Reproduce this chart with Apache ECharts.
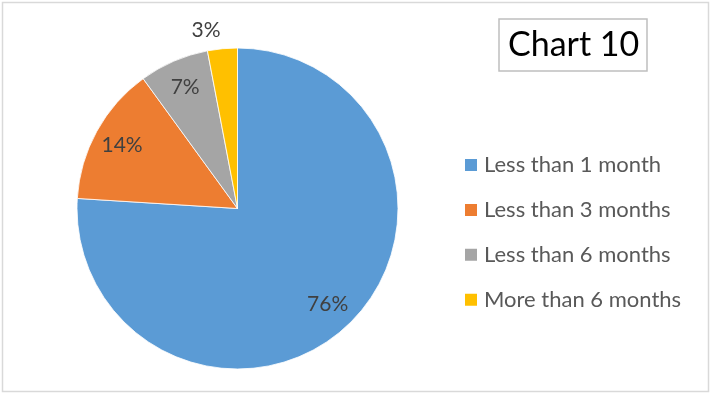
<!DOCTYPE html>
<html>
<head>
<meta charset="utf-8">
<script src="https://cdn.jsdelivr.net/npm/echarts@6/dist/echarts.min.js"></script>
<style>
  html, body { margin: 0; padding: 0; background: #fff; }
  #chart { width: 711px; height: 394px; }
</style>
</head>
<body>
<div id="chart"></div>
<script>
// Duration categories and their share (%)
const categories = ['Less than 1 month', 'Less than 3 months', 'Less than 6 months', 'More than 6 months'];
const shares = [76, 14, 7, 3];
const colors = ['#5B9BD5', '#ED7D31', '#A5A5A5', '#FFC000'];
const titleText = 'Chart 10';

const FONT = 'Lato, "Liberation Sans", sans-serif';
const center = [237.5, 208.5];
const radius = 160.5;

const chart = echarts.init(document.getElementById('chart'), null, { renderer: 'canvas' });

// The smallest slice gets its label outside the pie, the rest inside
const outsideIdx = 3;

const pieData = categories.map((name, i) => ({
  name,
  value: shares[i],
  itemStyle: { color: colors[i] },
  label: i === outsideIdx ? { show: true } : { show: false }
}));

// Transparent ring that carries the inside labels at ~80% of the radius
const labelRingData = categories.map((name, i) => ({
  name,
  value: shares[i],
  itemStyle: { color: 'rgba(0,0,0,0)' },
  label: { show: i !== outsideIdx }
}));

chart.setOption({
  animation: false,
  backgroundColor: '#fff',
  title: {
    text: titleText,
    left: 499,
    top: 19,
    padding: [8, 8, 8, 9],
    borderColor: '#bfbfbf',
    borderWidth: 1.5,
    textStyle: { fontFamily: FONT, fontSize: 34, fontWeight: 'normal', color: '#000', lineHeight: 36 }
  },
  legend: {
    orient: 'vertical',
    left: 463,
    top: 154,
    padding: 0,
    itemWidth: 14,
    itemHeight: 14,
    itemGap: 22.9,
    icon: 'rect',
    selectedMode: false,
    data: categories,
    textStyle: { fontFamily: FONT, fontSize: 22, color: '#595959', lineHeight: 20, padding: [0, 0, 0, 1] }
  },
  graphic: [{
    type: 'rect',
    silent: true,
    z: -10,
    shape: { x: 2.5, y: 2.5, width: 706, height: 389 },
    style: { fill: 'none', stroke: '#d9d9d9', lineWidth: 1.5 }
  }],
  series: [
    {
      type: 'pie',
      center,
      radius: [0, radius],
      startAngle: 90,
      clockwise: true,
      avoidLabelOverlap: false,
      silent: true,
      itemStyle: { borderColor: '#fff', borderWidth: 0.8 },
      label: {
        position: 'outside',
        formatter: '{c}%',
        fontFamily: FONT,
        fontSize: 21,
        color: '#404040',
        distanceToLabelLine: 0
      },
      labelLine: { show: false, length: 19, length2: 0 },
      data: pieData
    },
    {
      type: 'pie',
      center,
      radius: [97, radius],
      startAngle: 90,
      clockwise: true,
      avoidLabelOverlap: false,
      silent: true,
      legendHoverLink: false,
      label: {
        position: 'inside',
        formatter: '{c}%',
        fontFamily: FONT,
        fontSize: 21,
        color: '#404040'
      },
      labelLine: { show: false },
      data: labelRingData
    }
  ]
});
</script>
</body>
</html>
